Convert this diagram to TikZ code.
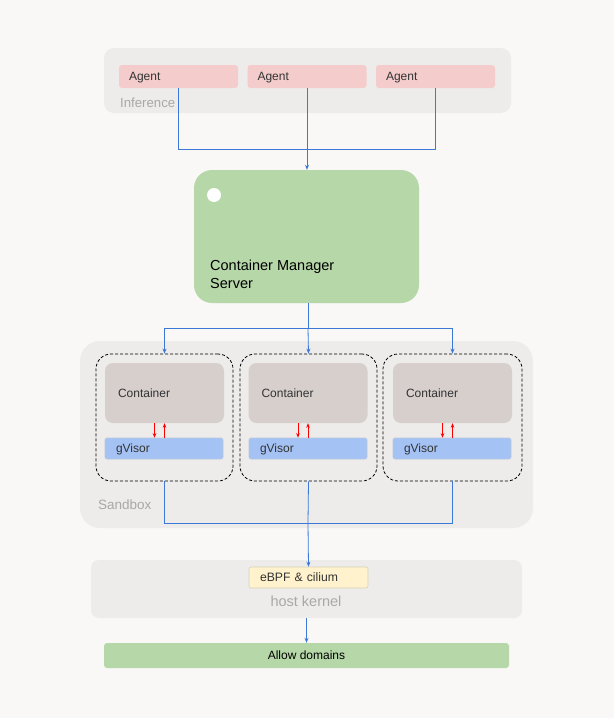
\documentclass[tikz,border=0pt]{standalone}
\usepackage{fontspec}
\setmainfont{Liberation Sans}
\usetikzlibrary{arrows.meta}
\definecolor{bg}{HTML}{F9F8F7}
\definecolor{panel}{HTML}{EDECEB}
\definecolor{agentfill}{HTML}{F4CCCC}
\definecolor{greenfill}{HTML}{B6D7A8}
\definecolor{contfill}{HTML}{D6CFCC}
\definecolor{gvfill}{HTML}{A4C2F4}
\definecolor{gvline}{HTML}{B8C8E0}
\definecolor{ebfill}{HTML}{FFF2CC}
\definecolor{ebline}{HTML}{D8D0B8}
\definecolor{blueline}{HTML}{3C78D8}
\definecolor{labelgray}{HTML}{A8A8A8}
\definecolor{textdark}{HTML}{333333}
\begin{document}
\begin{tikzpicture}[x=1pt,y=-1pt,
  panelbox/.style={fill=panel, draw=none, inner sep=0pt},
  agentbox/.style={fill=agentfill, draw=none, rounded corners=3pt, minimum width=119pt, minimum height=23pt,
     text width=99pt, inner xsep=10pt, inner ysep=0pt, align=left, text=textdark, text height=8.6pt, text depth=0pt, font=\fontsize{12}{14}\selectfont},
  contbox/.style={fill=contfill, draw=none, rounded corners=8pt, minimum width=119pt, minimum height=60pt,
     text width=93pt, inner xsep=13pt, inner ysep=0pt, align=left, text=textdark, text height=8.6pt, text depth=0pt, font=\fontsize{12}{14}\selectfont},
  gvbox/.style={fill=gvfill, draw=gvline, line width=0.6pt, rounded corners=2pt, minimum width=118pt, minimum height=21pt,
     text width=96pt, inner xsep=11pt, inner ysep=0pt, align=left, text=textdark, text height=8.6pt, text depth=0pt, font=\fontsize{12}{14}\selectfont},
  dashbox/.style={draw=black, dash pattern=on 3pt off 2pt, line width=0.8pt, rounded corners=15pt, minimum height=127pt, inner sep=0pt},
  greenbox/.style={fill=greenfill, draw=none, inner sep=0pt},
  grouplabel/.style={text=labelgray, inner sep=0pt},
  flow/.style={draw=blueline, line width=0.8pt},
  flowarrow/.style={flow, -{Stealth[length=5pt,width=4pt]}},
  redarrow/.style={draw=red, line width=0.8pt, -{Stealth[length=4.5pt,width=3.5pt]}}
]
\useasboundingbox (0,0) rectangle (614,718);
\fill[bg] (0,0) rectangle (614,718);

% Inference
\node[panelbox, rounded corners=10pt, minimum width=407pt, minimum height=65pt] (inf) at (307.5,80.5) {};
\node[agentbox] (a1) at (178.5,76.5) {Agent};
\node[agentbox] (a2) at (307,76.5) {Agent};
\node[agentbox] (a3) at (435.5,76.5) {Agent};
\node[grouplabel, anchor=west, text height=9.5pt, text depth=0pt, font=\fontsize{13.2}{15}\selectfont] (inflabel) at (120,103) {Inference};

% Container manager server
\node[greenbox, rounded corners=18pt, minimum width=225pt, minimum height=133pt] (cms) at (306.5,236.5) {};
\node[circle, fill=white, minimum size=14pt, inner sep=0pt] (dot) at (214,195) {};
\node[anchor=west, align=left, inner sep=0pt, font=\fontsize{14.5}{18}\selectfont] (cmstext) at (210,274) {Container Manager\\Server};

\coordinate (j1) at (307,149);
\draw[flow] (a1.south) |- (j1);
\draw[flow] (a3.south) |- (j1);
\draw[flow] (a2.south) -- (j1);
\draw[flowarrow] (j1) -- (j1 |- cms.north);

% Sandbox
\node[panelbox, rounded corners=20pt, minimum width=453pt, minimum height=187pt] (sb) at (306.5,434.5) {};
\node[grouplabel, anchor=west, text height=9.7pt, text depth=0pt, font=\fontsize{13.5}{15}\selectfont] (sblabel) at (98,505) {Sandbox};

\node[dashbox, minimum width=137pt] (d1) at (164.5,417.5) {};
\node[dashbox, minimum width=137pt] (d2) at (308.5,417.5) {};
\node[dashbox, minimum width=139pt] (d3) at (452.5,417.5) {};

\node[contbox] (c1) at (164.5,393) {Container};
\node[contbox] (c2) at (308,393) {Container};
\node[contbox] (c3) at (452.5,393) {Container};

\node[gvbox] (g1) at (164,448.5) {gVisor};
\node[gvbox] (g2) at (308,448.5) {gVisor};
\node[gvbox] (g3) at (452,448.5) {gVisor};

\foreach \i in {1,2,3}{
  \draw[redarrow] ([xshift=-10pt]c\i.south) -- ([xshift=-10pt]c\i.south |- g\i.north);
  \draw[redarrow] (c\i.south |- g\i.north) -- (c\i.south);
}

\coordinate (j2) at (308,328);
\draw[flow] (cms.south -| j2) -- (j2);
\draw[flowarrow] (j2) -| (d1.north);
\draw[flowarrow] (j2) -| (d3.north);
\draw[flowarrow] (j2) -- (d2.north);

% Host kernel
\node[panelbox, rounded corners=8pt, minimum width=431pt, minimum height=58pt] (hk) at (306.5,589) {};
\node[fill=ebfill, draw=ebline, line width=0.6pt, rounded corners=2pt, minimum width=119pt, minimum height=21pt,
   text width=97pt, inner xsep=11pt, inner ysep=0pt, align=left, text=textdark, text height=8.7pt, text depth=0pt, font=\fontsize{12.2}{14}\selectfont] (ebpf) at (308.5,577.5) {eBPF \& cilium};
\node[grouplabel, text height=10.4pt, text depth=0pt, font=\fontsize{14.5}{16}\selectfont] (hklabel) at (306,601) {host kernel};

\coordinate (j3) at (308,523);
\draw[flow] (d1.south) |- (j3);
\draw[flow] (d3.south) |- (j3);
\draw[flow] (d2.south) -- (j3);
\draw[flowarrow] (j3) -- (ebpf.north);

% Allow domains
\node[greenbox, rounded corners=3pt, minimum width=405pt, minimum height=25pt, text height=8.6pt, text depth=0pt, font=\fontsize{12}{14}\selectfont] (allow) at (306.5,655.5) {Allow domains};
\draw[flowarrow] (hk.south -| allow.north) -- (allow.north);
\end{tikzpicture}
\end{document}
